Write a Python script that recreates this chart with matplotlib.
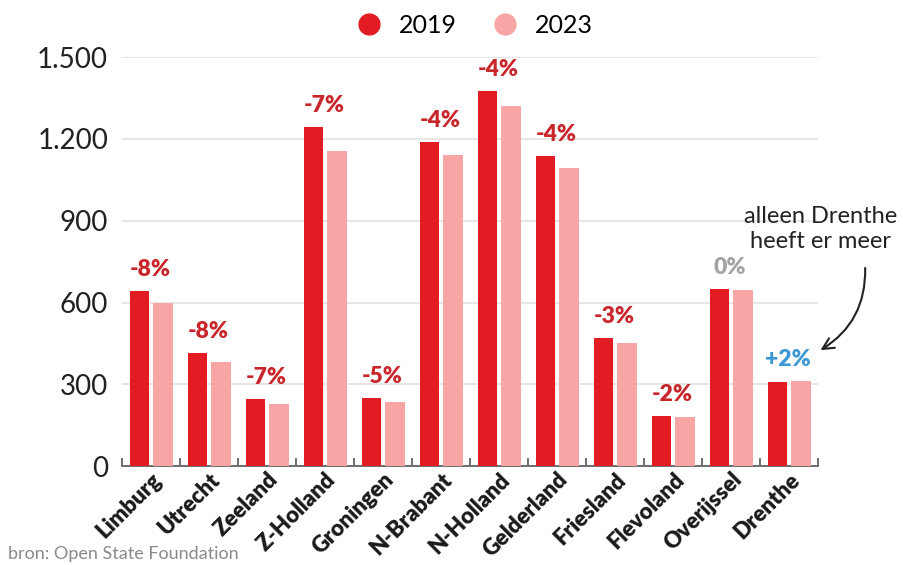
import matplotlib
matplotlib.use("Agg")
import matplotlib.pyplot as plt
import numpy as np
from matplotlib.lines import Line2D

plt.rcParams['font.family'] = ['Lato', 'DejaVu Sans']

provinces = ["Limburg", "Utrecht", "Zeeland", "Z-Holland", "Groningen", "N-Brabant",
             "N-Holland", "Gelderland", "Friesland", "Flevoland", "Overijssel", "Drenthe"]
v2019 = [643, 413, 245, 1243, 248, 1187, 1376, 1138, 470, 182, 648, 307]
v2023 = [597, 380, 226, 1156, 235, 1140, 1321, 1092, 453, 179, 647, 313]
changes = ["-8%", "-8%", "-7%", "-7%", "-5%", "-4%", "-4%", "-4%", "-3%", "-2%", "0%", "+2%"]
yticks = [0, 300, 600, 900, 1200, 1500]
ytick_labels = ["0", "300", "600", "900", "1.200", "1.500"]

RED = "#e31b23"
PINK = "#f8a5a6"
LABEL_RED = "#c9262c"
GREY = "#a3a3a3"
BLUE = "#3b9ad6"

fig = plt.figure(figsize=(9.04, 5.65), dpi=100)
ax = fig.add_axes([0.135, 0.175, 0.77, 0.724])

x = np.arange(len(provinces))
w = 0.34
ax.bar(x - 0.2, v2019, width=w, color=RED, zorder=3)
ax.bar(x + 0.2, v2023, width=w, color=PINK, zorder=3)

for i, lab in enumerate(changes):
    col = LABEL_RED
    if lab.startswith("+"):
        col = BLUE
    elif lab == "0%":
        col = GREY
    top = max(v2019[i], v2023[i])
    ax.annotate(lab, (x[i] - 0.02, top), xytext=(0, 8), textcoords="offset points",
                ha="center", va="bottom", fontsize=16.5, fontweight="heavy", color=col,
                annotation_clip=False)

ax.set_xlim(-0.5, len(provinces) - 0.5)
ax.set_ylim(0, 1500)
ax.set_yticks(yticks)
ax.set_yticklabels(ytick_labels, fontsize=20, color="#222222")
ax.tick_params(axis="y", length=0, pad=10)
ax.yaxis.grid(True, color="#e2e2e2", linewidth=1.2, zorder=0)
ax.set_axisbelow(True)

ax.set_xticks(x)
ax.set_xticklabels(provinces, rotation=45, ha="right", rotation_mode="anchor",
                   fontsize=16, fontweight="heavy", color="#1a1a1a")
ax.tick_params(axis="x", which="major", length=0, pad=2)
ax.set_xticks(np.arange(-0.5, len(provinces), 1.0), minor=True)
ax.tick_params(axis="x", which="minor", direction="in", length=6, width=1.2, color="#555555")

for s in ["top", "right", "left"]:
    ax.spines[s].set_visible(False)
ax.spines["bottom"].set_color("#555555")
ax.spines["bottom"].set_linewidth(1.2)

# legend
handles = [Line2D([], [], marker="o", linestyle="", markersize=15, color=RED, label="2019"),
           Line2D([], [], marker="o", linestyle="", markersize=15, color=PINK, label="2023")]
fig.legend(handles=handles, loc="center", bbox_to_anchor=(0.518, 0.955), ncol=2,
           frameon=False, fontsize=18, handletextpad=0.2, columnspacing=0.9)

# annotation
fig.text(0.908, 0.595, "alleen Drenthe\nheeft er meer", ha="center", va="center",
         fontsize=17, color="#222222", linespacing=1.2)
ax.annotate("", xy=(11.5, 420), xytext=(12.31, 737), xycoords="data",
            arrowprops=dict(arrowstyle="->", color="#222222", lw=1.5,
                            connectionstyle="arc3,rad=-0.3", mutation_scale=20),
            annotation_clip=False)

fig.text(0.009, 0.006, "bron: Open State Foundation", fontsize=13, color="#8a8a8a",
         ha="left", va="bottom")

fig.savefig("out.png", dpi=100, facecolor="white")
